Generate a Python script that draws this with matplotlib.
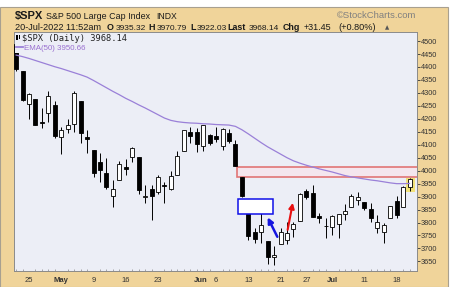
import matplotlib
matplotlib.use('Agg')
import matplotlib.pyplot as plt
from matplotlib.patches import Rectangle
import numpy as np

# donnees $SPX journalieres (21 avril -> 20 juillet 2022)
opens = [4489.17, 4385.83, 4255.34, 4278.14, 4186.52, 4222.58, 4253.75,
         4130.61, 4159.78, 4181.18, 4270.43, 4128.17,
         4081.27, 4035.18, 3990.08, 3903.95, 3963.90,
         4013.02, 4052.00, 4051.98, 3899.00, 3927.76,
         3919.42, 3942.94, 3929.59, 3984.60, 4077.43,
         4151.09, 4149.78, 4095.41, 4137.57,
         4134.72, 4096.47, 4147.12, 4101.65, 3974.39,
         3838.15, 3763.52, 3764.05, 3728.18, 3665.90,
         3715.31, 3733.89, 3774.71, 3805.22,
         3920.76, 3913.00, 3825.09, 3785.99, 3781.00,
         3792.61, 3831.98, 3858.85, 3888.26,
         3880.94, 3851.95, 3779.67, 3763.99, 3818.00,
         3883.79, 3860.73, 3935.32]
highs = [4512.94, 4385.83, 4299.02, 4278.14, 4240.71, 4308.45, 4269.68,
         4169.81, 4200.10, 4307.66, 4270.43, 4157.69,
         4081.27, 4068.82, 4049.09, 3964.80, 4038.88,
         4046.46, 4090.72, 4051.98, 3945.96, 3943.42,
         3981.88, 3955.68, 3999.33, 4075.14, 4158.49,
         4168.34, 4166.54, 4177.51, 4142.67,
         4168.78, 4164.86, 4160.14, 4119.10, 3974.39,
         3838.15, 3778.18, 3837.56, 3728.18, 3707.71,
         3779.65, 3801.79, 3802.58, 3913.65,
         3927.72, 3945.86, 3836.50, 3818.99, 3829.82,
         3832.19, 3870.91, 3910.63, 3918.50,
         3880.94, 3873.41, 3829.44, 3796.41, 3863.62,
         3902.44, 3939.81, 3970.79]
lows = [4384.47, 4267.62, 4200.82, 4175.04, 4162.90, 4188.63, 4124.28,
        4062.51, 4147.08, 4148.91, 4106.01, 4067.91,
        3975.48, 3958.17, 3928.82, 3858.87, 3963.90,
        3983.99, 4033.93, 3911.91, 3876.58, 3810.32,
        3909.04, 3875.13, 3925.03, 3984.60, 4077.43,
        4104.88, 4073.85, 4074.37, 4098.67,
        4109.18, 4080.19, 4107.20, 4017.17, 3900.16,
        3734.30, 3722.30, 3722.30, 3639.77, 3636.87,
        3715.31, 3717.69, 3743.52, 3805.22,
        3889.66, 3820.14, 3799.02, 3738.67, 3752.10,
        3742.06, 3809.37, 3858.85, 3869.34,
        3847.22, 3802.36, 3759.07, 3721.56, 3817.18,
        3818.63, 3860.73, 3922.03]
closes = [4393.66, 4271.78, 4296.12, 4175.20, 4183.96, 4287.50, 4131.93,
          4155.38, 4175.48, 4300.17, 4146.87, 4123.34,
          3991.24, 4001.05, 3935.18, 3930.08, 4023.89,
          4008.01, 4088.85, 3923.68, 3900.79, 3901.36,
          3973.75, 3941.48, 3978.73, 4057.84, 4158.24,
          4132.15, 4101.23, 4176.82, 4108.54,
          4121.43, 4160.68, 4115.77, 4017.82, 3900.86,
          3749.63, 3735.48, 3789.99, 3666.77, 3674.84,
          3764.79, 3759.89, 3795.73, 3911.74,
          3900.11, 3821.55, 3818.83, 3785.38, 3825.33,
          3831.39, 3845.08, 3902.62, 3899.38,
          3854.43, 3818.80, 3801.78, 3790.38, 3863.16,
          3830.85, 3936.69, 3968.14]
# EMA(50)
ema50 = [4446, 4440, 4433, 4425, 4417, 4409, 4401, 4394, 4386, 4378, 4370,
         4361, 4348, 4334, 4320, 4306, 4293, 4279, 4267, 4254, 4242, 4229,
         4216, 4203, 4194, 4189, 4186, 4184, 4183, 4181, 4180, 4178, 4177,
         4176, 4171, 4158, 4142, 4125, 4108, 4092, 4078, 4064, 4050, 4038,
         4029, 4021, 4014, 4007, 4001, 3995, 3988, 3981, 3976, 3972, 3968,
         3964, 3961, 3957, 3953, 3950, 3950, 3950.66]

# etiquettes de l'axe des x (indice du jour de bourse, 25 avril = 0)
xtick_pos = [0, 5, 10, 15, 20, 26.7, 29, 34, 39, 43, 47, 52, 57]
xtick_lab = ['25', 'May', '9', '16', '23', 'Jun', '6', '13', '21', '27', 'Jul', '11', '18']
ytick_vals = list(range(3650, 4501, 50))

W, H = 457., 287.
bg_out = '#F0D49A'
bg_plot = '#ECEEF6'

def fx(px):
    return px / W

def fy(py):
    return 1 - py / H

fig = plt.figure(figsize=(W / 100, H / 100), dpi=100)
fig.patch.set_facecolor('white')
fig.patches.append(Rectangle((0, 0), fx(448), 280 / H, transform=fig.transFigure,
                             facecolor=bg_out, edgecolor='#A8A090', lw=0.8, zorder=-10))

ax = fig.add_axes([fx(14), fy(271), (416.5 - 14) / W, (271 - 32) / H])
ax.set_facecolor(bg_plot)

x = np.arange(len(closes)) - 2
o = np.array(opens); c = np.array(closes)
up = c >= o

# bougies
ax.vlines(x, lows, highs, color='black', lw=0.7, zorder=3)
ax.bar(x, np.abs(c - o), bottom=np.minimum(o, c), width=0.62,
       color=np.where(up, 'white', 'black'), edgecolor='black', lw=0.6, zorder=3)

# mise en evidence de la derniere bougie
ax.add_patch(Rectangle((58.5, 3918), 1.3, 55, facecolor='#F2E27A', edgecolor='none', zorder=2))

# EMA(50)
ax.plot(x, ema50, color='#9A80D8', lw=0.9, zorder=4)

# zones et fleches
ax.add_patch(Rectangle((32.2, 3974), 28.5, 39, facecolor='#F6E6EE', edgecolor='#E06868',
                       lw=1.2, alpha=0.9, zorder=2))
ax.add_patch(Rectangle((32.45, 3832), 5.35, 58, facecolor='white', edgecolor='#1010E8',
                       lw=1.1, zorder=4))
ax.annotate('', xy=(37.0, 3820), xytext=(38.5, 3745),
            arrowprops=dict(arrowstyle='-|>', color='#1515E0', lw=1.8, mutation_scale=8,
                            shrinkA=0, shrinkB=0), zorder=5)
ax.annotate('', xy=(40.9, 3876), xytext=(40.1, 3772),
            arrowprops=dict(arrowstyle='-|>', color='#E81010', lw=1.5, mutation_scale=8,
                            shrinkA=0, shrinkB=0), zorder=5)

ax.set_xlim(-2.33, 60.08)
ax.set_ylim(3613, 4535)

ax.yaxis.tick_right()
ax.set_yticks(ytick_vals)
ax.set_yticklabels([str(v) for v in ytick_vals], family='Liberation Sans')
ax.tick_params(axis='y', length=2.5, width=0.6, pad=0.3, labelsize=5.3, colors='#333333')
ax.set_xticks(xtick_pos)
ax.set_xticklabels(xtick_lab, family='Liberation Sans')
ax.set_xticks(np.arange(-2, 60), minor=True)
ax.tick_params(axis='x', which='major', length=0, pad=4, labelsize=5.5, colors='#333333')
ax.tick_params(axis='x', which='minor', length=1.5, width=0.5, direction='in', color='#888888')
for lab in ax.get_xticklabels():
    if lab.get_text() in ('May', 'Jun', 'Jul'):
        lab.set_fontweight('bold')
for s in ax.spines.values():
    s.set_color('#8A8A8A')
    s.set_linewidth(0.7)

# legende en haut a gauche (cache le haut de la premiere bougie)
ax.add_patch(Rectangle((fx(14.5), fy(53)), 118 / W, 20.5 / H, transform=fig.transFigure,
                       facecolor=bg_plot, edgecolor='none', zorder=6))
fig.patches.append(Rectangle((fx(16), fy(40)), 1.6 / W, 5 / H, transform=fig.transFigure,
                             facecolor='black', zorder=7))
fig.patches.append(Rectangle((fx(18.5), fy(39)), 1.6 / W, 4 / H, transform=fig.transFigure,
                             facecolor='black', zorder=7))
fig.text(fx(22), fy(40.5), '$SPX (Daily) 3968.14', family='DejaVu Sans Mono', size=6.3,
         color='#222222', zorder=8)
fig.lines.append(plt.Line2D([fx(15.5), fx(22.5)], [fy(47), fy(47)], transform=fig.transFigure,
                            color='#9A80D8', lw=1.3, zorder=8))
fig.text(fx(24.5), fy(49.5), 'EMA(50) 3950.66', family='Liberation Sans', size=5.7,
         color='#9A70D0', zorder=8)

# entete
hf = 'Liberation Sans'
fig.text(fx(15), fy(19.5), '$SPX', family=hf, weight='bold', size=8, color='#1a1a1a')
fig.text(fx(46), fy(19), 'S&P 500 Large Cap Index', family=hf, size=6.4, color='#1a1a1a')
fig.text(fx(156), fy(19), 'INDX', family=hf, size=6.2, color='#1a1a1a')
fig.text(fx(337), fy(17.5), '\u00a9StockCharts.com', family=hf, size=6.8, color='#808080')

y2 = fy(29.5)
fs_b = 6.4
fs_n = 6.0
fig.text(fx(15), y2, '20-Jul-2022 11:52am', family=hf, size=6.6, color='#1a1a1a')
fig.text(fx(107), y2, 'O', family=hf, size=fs_b, weight='bold', color='#1a1a1a')
fig.text(fx(115.5), y2, '3935.32', family=hf, size=fs_n, color='#1a1a1a')
fig.text(fx(148.5), y2, 'H', family=hf, size=fs_b, weight='bold', color='#1a1a1a')
fig.text(fx(156.5), y2, '3970.79', family=hf, size=fs_n, color='#1a1a1a')
fig.text(fx(190), y2, 'L', family=hf, size=fs_b, weight='bold', color='#1a1a1a')
fig.text(fx(196.5), y2, '3922.03', family=hf, size=fs_n, color='#1a1a1a')
fig.text(fx(227), y2, 'Last', family=hf, size=fs_b, weight='bold', color='#1a1a1a')
fig.text(fx(248.5), y2, '3968.14', family=hf, size=fs_n, color='#1a1a1a')
fig.text(fx(283), y2, 'Chg', family=hf, size=fs_b, weight='bold', color='#1a1a1a')
fig.text(fx(304), y2, '+31.45', family=hf, size=6.5, color='#1a1a1a')
fig.text(fx(338), y2, '(+0.80%)', family=hf, size=6.6, color='#1a1a1a')
fig.text(fx(385), y2, '\u25b2', family='DejaVu Sans', size=4, color='#555555')

fig.savefig('out.png', dpi=100, facecolor=fig.get_facecolor())
